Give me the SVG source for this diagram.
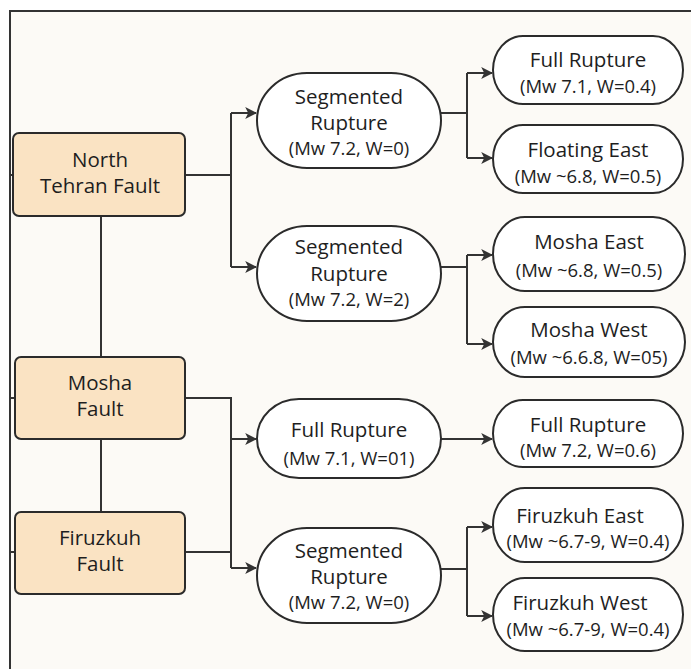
<svg xmlns="http://www.w3.org/2000/svg" width="691" height="669" viewBox="0 0 691 669">
<defs>
<style>
.bg{fill:#fcfaf6}
.frame{fill:none;stroke:#333;stroke-width:2}
.fault rect{fill:#fae3c3;stroke:#2b2b2b;stroke-width:2}
.node rect{fill:#fff;stroke:#2b2b2b;stroke-width:2}
text{font-family:"Open Sans","Liberation Sans",sans-serif;fill:#1e1e1e;text-anchor:middle}
.t{font-size:20.5px}
.s{font-size:18.5px}
.c{fill:none;stroke:#333;stroke-width:2}
.a{fill:none;stroke:#333;stroke-width:2;marker-end:url(#arr)}
</style>
<marker id="arr" viewBox="0 0 10 10" refX="9" refY="5" markerWidth="6" markerHeight="6" markerUnits="strokeWidth" orient="auto">
<path d="M0,0 L10,5 L0,10 L2.5,5 z" fill="#333"/>
</marker>
</defs>
<rect x="0" y="0" width="691" height="669" fill="#fff"/>
<rect class="bg" x="11" y="11" width="680" height="658"/>
<path class="frame" d="M10,669 V11 H691"/>

<g id="connectors">
<path class="c" d="M10,175 H14 M10,398 H15 M10,552 H15"/>
<path class="c" d="M101,216 V357 M101,439 V512"/>
<path class="c" d="M185,175 H231 M231,113 V267"/>
<path class="a" d="M231,113 H256"/>
<path class="a" d="M231,267 H256"/>
<path class="c" d="M441,113 H467 M467,73 V158"/>
<path class="a" d="M467,73 H492"/>
<path class="a" d="M467,158 H492"/>
<path class="c" d="M441,267 H467 M467,255 V344"/>
<path class="a" d="M467,255 H492"/>
<path class="a" d="M467,344 H492"/>
<path class="c" d="M185,398 H231 V568 M185,552 H231"/>
<path class="a" d="M231,439 H256"/>
<path class="a" d="M231,568 H256"/>
<path class="a" d="M441,439 H492"/>
<path class="c" d="M441,569 H467 M467,527 V616"/>
<path class="a" d="M467,527 H492"/>
<path class="a" d="M467,616 H492"/>
</g>

<g id="north-tehran" class="fault"><rect x="13" y="133" width="172" height="83" rx="6"/><text class="t" x="100" y="167">North</text><text class="t" x="100" y="193">Tehran Fault</text></g>
<g id="mosha" class="fault"><rect x="15" y="357" width="170" height="82" rx="6"/><text class="t" x="100" y="390">Mosha</text><text class="t" x="100" y="416">Fault</text></g>
<g id="firuzkuh" class="fault"><rect x="15" y="512" width="170" height="82" rx="6"/><text class="t" x="100" y="545">Firuzkuh</text><text class="t" x="100" y="571">Fault</text></g>

<g id="seg1" class="node"><rect x="257" y="73" width="184" height="95" rx="50" ry="47.5"/><text class="t" x="349" y="104">Segmented</text><text class="t" x="349" y="130">Rupture</text><text class="s" x="349" y="155">(Mw 7.2, W=0)</text></g>
<g id="seg2" class="node"><rect x="257" y="226" width="184" height="95" rx="50" ry="47.5"/><text class="t" x="349" y="254">Segmented</text><text class="t" x="349" y="281">Rupture</text><text class="s" x="349" y="306">(Mw 7.2, W=2)</text></g>
<g id="full-mid" class="node"><rect x="257" y="399" width="184" height="79" rx="42" ry="39.5"/><text class="t" x="349" y="437">Full Rupture</text><text class="s" x="349" y="465">(Mw 7.1, W=01)</text></g>
<g id="seg3" class="node"><rect x="257" y="528" width="184" height="95" rx="50" ry="47.5"/><text class="t" x="349" y="558">Segmented</text><text class="t" x="349" y="584">Rupture</text><text class="s" x="349" y="609">(Mw 7.2, W=0)</text></g>

<g id="r-full1" class="node"><rect x="493" y="36" width="190" height="68" rx="30" ry="34"/><text class="t" x="588" y="67">Full Rupture</text><text class="s" x="588" y="93">(Mw 7.1, W=0.4)</text></g>
<g id="r-floating" class="node"><rect x="493" y="125" width="190" height="68" rx="30" ry="34"/><text class="t" x="588" y="157">Floating East</text><text class="s" x="588" y="183">(Mw ~6.8, W=0.5)</text></g>
<g id="r-mosha-east" class="node"><rect x="493" y="217" width="192" height="74" rx="32" ry="37"/><text class="t" x="589" y="249">Mosha East</text><text class="s" x="589" y="277">(Mw ~6.8, W=0.5)</text></g>
<g id="r-mosha-west" class="node"><rect x="493" y="307" width="192" height="70" rx="32" ry="35"/><text class="t" x="589" y="337">Mosha West</text><text class="s" x="589" y="364">(Mw ~6.6.8, W=05)</text></g>
<g id="r-full2" class="node"><rect x="493" y="400" width="190" height="67" rx="30" ry="33.5"/><text class="t" x="588" y="432">Full Rupture</text><text class="s" x="588" y="457">(Mw 7.2, W=0.6)</text></g>
<g id="r-firuzkuh-east" class="node"><rect x="493" y="488" width="190" height="74" rx="32" ry="37"/><text class="t" x="580" y="523">Firuzkuh East</text><text class="s" x="588" y="548">(Mw ~6.7-9, W=0.4)</text></g>
<g id="r-firuzkuh-west" class="node"><rect x="493" y="578" width="190" height="73" rx="32" ry="36.5"/><text class="t" x="580" y="610">Firuzkuh West</text><text class="s" x="588" y="636">(Mw ~6.7-9, W=0.4)</text></g>
</svg>
